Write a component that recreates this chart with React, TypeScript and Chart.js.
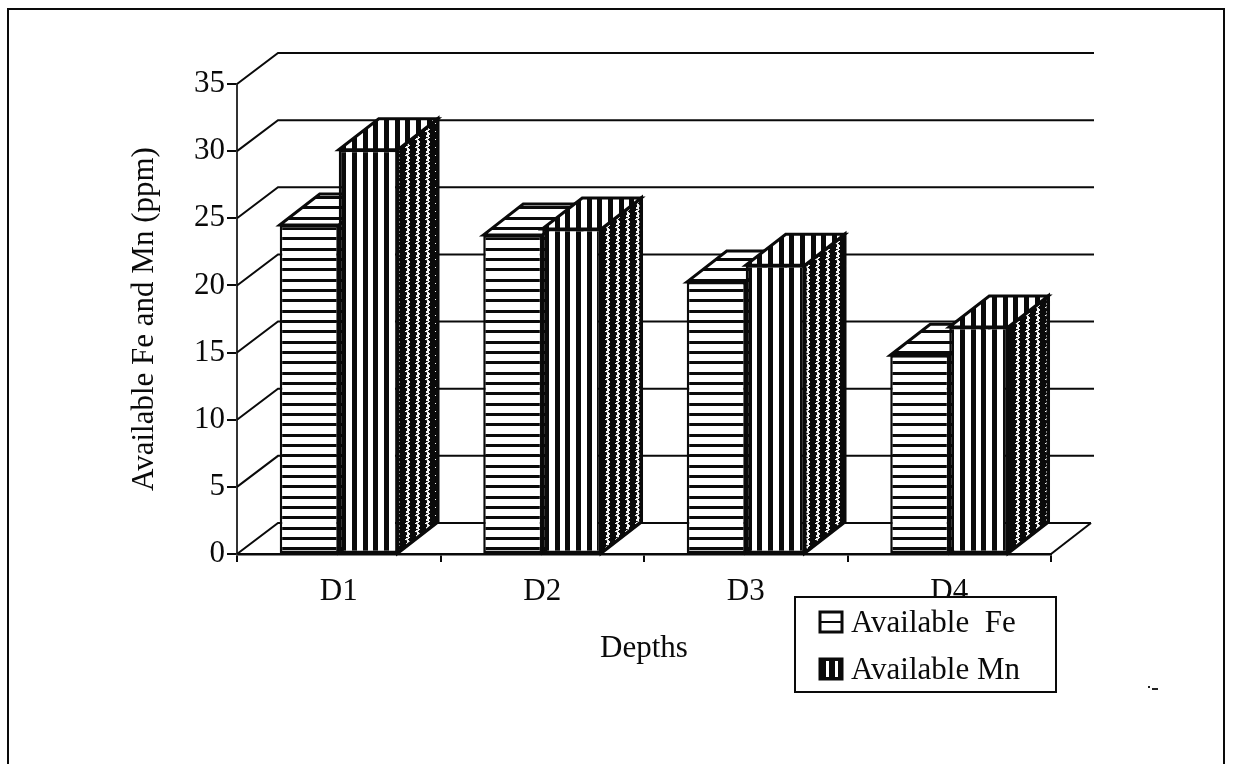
import React, { useEffect, useRef } from "react";
import { Chart, registerables } from "chart.js";

Chart.register(...registerables);

const categories = ["D1", "D2", "D3", "D4"];
const feValues = [24.5, 23.75, 20.25, 14.8];
const mnValues = [30.1, 24.2, 21.5, 16.9];
const feLabel = "Available  Fe";
const mnLabel = "Available Mn";
const xTitle = "Depths";
const yTitle = "Available Fe and Mn (ppm)";

const FONT = "'Liberation Serif', serif";
const INK = "#0a0a0a";
const DX = 40;
const DY = 31;

function makePattern(w: number, h: number, paint: (c: CanvasRenderingContext2D) => void) {
  const cv = document.createElement("canvas");
  cv.width = w;
  cv.height = h;
  const c = cv.getContext("2d")!;
  paint(c);
  return c.createPattern(cv, "repeat")!;
}

function patterns() {
  const horiz = makePattern(10, 31, (c) => {
    c.fillStyle = "#fff";
    c.fillRect(0, 0, 10, 31);
    c.fillStyle = INK;
    c.fillRect(0, 0, 10, 3);
    c.fillRect(0, 10, 10, 3);
    c.fillRect(0, 20, 10, 3);
  });
  const vert = makePattern(32, 4, (c) => {
    c.fillStyle = "#fff";
    c.fillRect(0, 0, 32, 4);
    c.fillStyle = INK;
    c.fillRect(0, 0, 5, 4);
    c.fillRect(11, 0, 5, 4);
    c.fillRect(21, 0, 5, 4);
  });
  const side = makePattern(10, 8, (c) => {
    c.fillStyle = INK;
    c.fillRect(0, 0, 10, 8);
    c.fillStyle = "#f2f2f2";
    const offs = [6, 7, 6, 5, 6, 7, 7, 6];
    offs.forEach((o, row) => c.fillRect(o, row, 3, 1));
    c.fillStyle = "#444";
    c.fillRect(7, 1, 1, 1);
    c.fillRect(6, 4, 1, 1);
  });
  return { horiz, vert, side };
}

export default function App() {
  const ref = useRef<HTMLCanvasElement>(null);

  useEffect(() => {
    const { horiz, vert, side } = patterns();

    const poly = (c: CanvasRenderingContext2D, pts: number[][], fill: any, lw = 2.5) => {
      c.beginPath();
      pts.forEach((p, i) => (i ? c.lineTo(p[0], p[1]) : c.moveTo(p[0], p[1])));
      c.closePath();
      c.fillStyle = fill;
      c.fill();
      c.lineWidth = lw;
      c.strokeStyle = INK;
      c.stroke();
    };

    const scene = {
      id: "scene",
      beforeDraw(chart: any) {
        const c: CanvasRenderingContext2D = chart.ctx;
        c.save();
        c.strokeStyle = INK;
        c.lineWidth = 2;
        c.beginPath();
        c.moveTo(1224, 764);
        c.lineTo(1224, 9);
        c.lineTo(8, 9);
        c.lineTo(8, 764);
        c.stroke();
        c.restore();
      },
      beforeDatasetsDraw(chart: any) {
        const c: CanvasRenderingContext2D = chart.ctx;
        const y = chart.scales.y;
        const { left, right, bottom } = chart.chartArea;
        c.save();
        c.strokeStyle = INK;
        c.lineWidth = 2;
        y.ticks.forEach((t: any) => {
          const py = y.getPixelForValue(t.value);
          c.beginPath();
          c.moveTo(left, py);
          c.lineTo(left + DX + 1, py - DY);
          c.lineTo(t.value === 0 ? right + DX : right + DX + 3, py - DY);
          c.stroke();
        });
        c.beginPath();
        c.moveTo(right, bottom);
        c.lineTo(right + DX, bottom - DY);
        c.stroke();
        chart.data.datasets.forEach((_: any, di: number) => {
          const isFe = di === 0;
          chart.getDatasetMeta(di).data.forEach((b: any) => {
            const l = b.x - b.width / 2;
            const r = b.x + b.width / 2;
            poly(c, [[r, b.y], [r + DX, b.y - DY], [r + DX, b.base - DY], [r, b.base]], isFe ? horiz : side, isFe ? 2.5 : 3.5);
            poly(c, [[l, b.y], [l + DX, b.y - DY], [r + DX, b.y - DY], [r, b.y]], isFe ? horiz : vert, 3);
          });
        });
        c.restore();
      },
      afterDraw(chart: any) {
        const c: CanvasRenderingContext2D = chart.ctx;
        c.save();
        c.fillStyle = "#fff";
        c.fillRect(795, 597, 261, 95);
        c.strokeStyle = INK;
        c.lineWidth = 2;
        c.strokeRect(795, 597, 261, 95);
        chart.data.datasets.forEach((d: any, i: number) => {
          const sy = i === 0 ? 612 : 659;
          c.fillStyle = i === 0 ? "#fff" : INK;
          c.fillRect(820, sy, 22, 20);
          c.strokeStyle = INK;
          c.lineWidth = 3;
          c.strokeRect(820, sy, 22, 20);
          if (i === 0) {
            c.fillStyle = INK;
            c.fillRect(820, sy + 9, 22, 2);
          } else {
            c.fillStyle = "#fff";
            c.fillRect(826, sy + 2, 3, 16);
            c.fillRect(835, sy + 2, 3, 16);
          }
          c.fillStyle = INK;
          c.font = `31px ${FONT}`;
          c.textAlign = "left";
          c.textBaseline = "alphabetic";
          c.fillText(d.label, 851, i === 0 ? 632 : 679);
        });
        // scanning speck of the reference
        c.fillStyle = "#222";
        c.fillRect(1148, 686, 2, 2);
        c.fillRect(1152, 688, 6, 2);
        c.restore();
      },
    };

    const chart = new Chart(ref.current!, {
      type: "bar",
      data: {
        labels: categories,
        datasets: [
          { label: feLabel, data: feValues, backgroundColor: horiz as any, borderColor: INK, borderWidth: 2.5, borderSkipped: false },
          { label: mnLabel, data: mnValues, backgroundColor: vert as any, borderColor: INK, borderWidth: 2.5, borderSkipped: false },
        ],
      },
      options: {
        responsive: false,
        animation: false,
        layout: { padding: { left: 126, top: 84, right: 182, bottom: 97 } },
        datasets: { bar: { barPercentage: 1, categoryPercentage: 0.58 } },
        plugins: { legend: { display: false }, tooltip: { enabled: false } },
        scales: {
          x: {
            afterFit: (s: any) => { s.height = 113; },
            grid: { drawOnChartArea: false, tickLength: 8, color: INK, lineWidth: 2 },
            border: { color: INK, width: 2.5 },
            ticks: { color: INK, padding: 11, font: { family: FONT, size: 31 }, maxRotation: 0 },
            title: { display: true, text: xTitle, color: INK, font: { family: FONT, size: 31 }, padding: 0 },
          },
          y: {
            min: 0,
            max: 35,
            afterFit: (s: any) => { s.width = 111; },
            grid: { drawOnChartArea: false, tickLength: 10, color: INK, lineWidth: 2 },
            border: { color: "#333", width: 2 },
            ticks: { stepSize: 5, color: INK, padding: 2, font: { family: FONT, size: 31 } },
            title: { display: true, text: yTitle, color: INK, font: { family: FONT, size: 31 }, padding: 0 },
          },
        },
      },
      plugins: [scene as any],
    });
    return () => chart.destroy();
  }, []);

  return (
    <canvas
      ref={ref}
      width={1233}
      height={764}
      style={{ position: "fixed", left: 0, top: 0, display: "block", background: "#fff" }}
    />
  );
}
